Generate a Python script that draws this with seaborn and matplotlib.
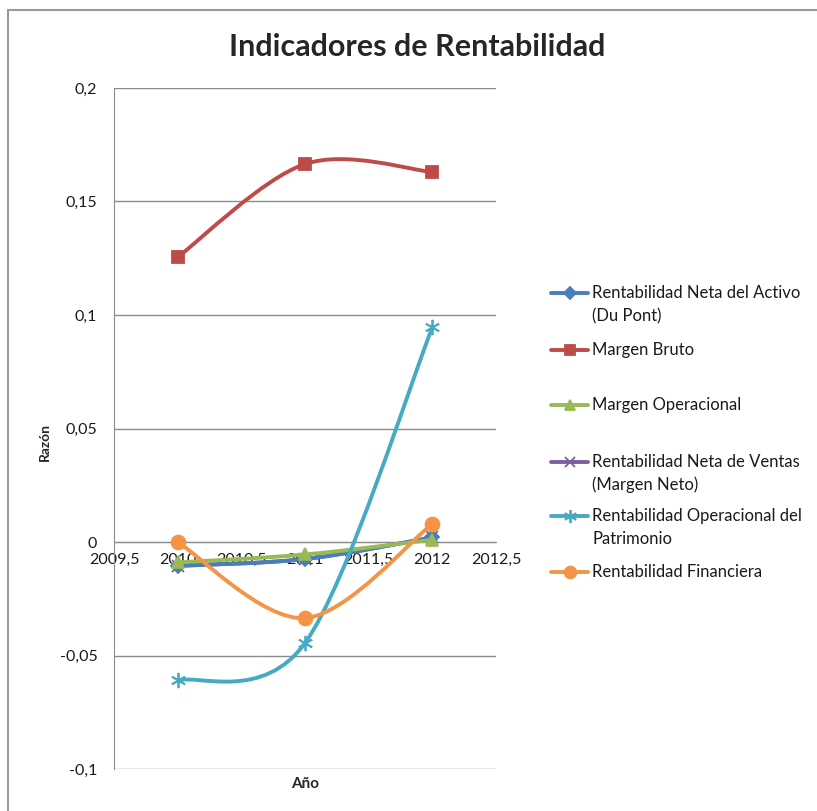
import numpy as np
import matplotlib
matplotlib.use("Agg")
import matplotlib.pyplot as plt
import seaborn as sns
from matplotlib.path import Path
from matplotlib.patches import PathPatch, Rectangle
from matplotlib.lines import Line2D
from matplotlib.ticker import FuncFormatter, MultipleLocator

sns.set_style("white")
plt.rcParams["font.family"] = ["Lato", "DejaVu Sans"]

years = [2010, 2011, 2012]
series_names = [
    "Rentabilidad Neta del Activo\n(Du Pont)",
    "Margen Bruto",
    "Margen Operacional",
    "Rentabilidad Neta de Ventas\n(Margen Neto)",
    "Rentabilidad Operacional del\nPatrimonio",
    "Rentabilidad Financiera",
]
neta_activo = [-0.0105, -0.0075, 0.0020]
margen_bruto = [0.1255, 0.1665, 0.1630]
margen_operacional = [-0.0090, -0.0055, 0.0010]
neta_ventas = [-0.0105, -0.0075, 0.0020]
operacional_patrimonio = [-0.0610, -0.0445, 0.0945]
financiera = [0.0000, -0.0335, 0.0080]

colors = ["#4A7EBB", "#BE4B48", "#98B954", "#7D60A0", "#46AAC5", "#F59446"]
markers = ["D", "s", "^", "x", (6, 2, 0), "o"]
msizes = [7, 9, 9, 8, 11, 10]
zorders = [4, 5, 5, 3, 6, 7]
values = [neta_activo, margen_bruto, margen_operacional, neta_ventas,
          operacional_patrimonio, financiera]


def smooth_path(xs, ys):
    # Excel-like smoothed line: Catmull-Rom converted to cubic Bezier
    pts = np.column_stack([xs, ys]).astype(float)
    n = len(pts)
    verts = [pts[0]]
    codes = [Path.MOVETO]
    for i in range(n - 1):
        p_prev = pts[max(i - 1, 0)]
        p0, p1 = pts[i], pts[i + 1]
        p_next = pts[min(i + 2, n - 1)]
        c1 = p0 + (p1 - p_prev) / 6
        c2 = p1 - (p_next - p0) / 6
        verts += [c1, c2, p1]
        codes += [Path.CURVE4] * 3
    return Path(verts, codes)


fig = plt.figure(figsize=(8.17, 8.11), dpi=100)
ax = fig.add_axes([114 / 817, 1 - 769 / 811, 382 / 817, 681 / 811])

for vals, col, mk, ms, z in zip(values, colors, markers, msizes, zorders):
    ax.add_patch(PathPatch(smooth_path(years, vals), facecolor="none",
                           edgecolor=col, lw=2.8, zorder=z, capstyle="round"))
    sns.lineplot(x=years, y=vals, ax=ax, color=col, marker=mk, markersize=ms,
                 linestyle="", markeredgecolor=col, markeredgewidth=1.3,
                 zorder=z + 0.5)

ax.set_xlim(2009.5, 2012.5)
ax.set_ylim(-0.1, 0.2)
ax.xaxis.set_major_locator(MultipleLocator(0.5))
ax.yaxis.set_major_locator(MultipleLocator(0.05))
fmt = FuncFormatter(lambda v, _: f"{round(v, 4):g}".replace(".", ","))
ax.xaxis.set_major_formatter(fmt)
ax.yaxis.set_major_formatter(fmt)
ax.yaxis.grid(True, color="#8c8c8c", lw=1.0)
ax.xaxis.grid(False)
for s in ["top", "right"]:
    ax.spines[s].set_visible(False)
ax.spines["left"].set_color("#8c8c8c")
ax.spines["bottom"].set_color("#8c8c8c")
ax.spines["bottom"].set_position(("data", 0))
ax.tick_params(axis="both", length=0, labelsize=11.5, colors="#1a1a1a")
ax.tick_params(axis="y", pad=12)
ax.tick_params(axis="x", pad=8)

ax.text(0.5, -0.012, "Año", transform=ax.transAxes, ha="center", va="top",
        fontsize=11, fontweight="bold")
ax.text(-0.18, 0.48, "Razón", transform=ax.transAxes, ha="center",
        va="center", rotation=90, fontsize=10, fontweight="bold")

fig.text(417 / 817, 1 - 47 / 811, "Indicadores de Rentabilidad", ha="center",
         va="center", fontsize=22, fontweight="bold")

# legend drawn entry by entry to follow the spacing of the original
legend_y = [293, 350, 405, 462, 516, 572]
for name, col, mk, ms, ly in zip(series_names, colors, markers, msizes, legend_y):
    yf = 1 - ly / 811
    fig.add_artist(Line2D([551 / 817, 588 / 817], [yf, yf], color=col, lw=2.8,
                          transform=fig.transFigure))
    fig.add_artist(Line2D([570 / 817], [yf], color=col, marker=mk,
                          markersize=ms * 0.85, markeredgecolor=col,
                          markeredgewidth=1.3, transform=fig.transFigure))
    fig.text(592 / 817, yf, name.split("\n")[0], ha="left", va="center",
             fontsize=12, color="#1a1a1a")
    if "\n" in name:
        fig.text(592 / 817, 1 - (ly + 23) / 811, name.split("\n")[1],
                 ha="left", va="center", fontsize=12, color="#1a1a1a")

fig.add_artist(Rectangle((8 / 817, -0.1), 1.2, 1 - 10 / 811 + 0.1,
                         transform=fig.transFigure, fill=False,
                         edgecolor="#9a9a9a", lw=1.5))

fig.savefig("out.png", dpi=100, facecolor="white")
